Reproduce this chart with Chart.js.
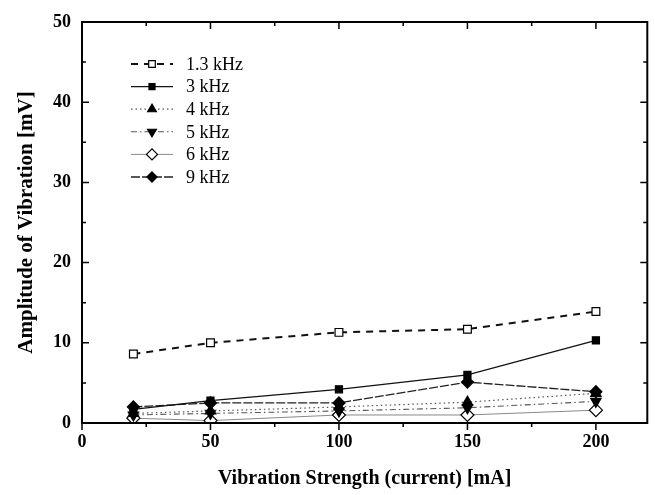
<!DOCTYPE html>
<html lang="en">
<head>
  <meta charset="UTF-8" />
  <title>Amplitude of Vibration vs Vibration Strength</title>
  <style>
  body {
    margin: 0;
    padding: 0;
    background: #ffffff;
  }
  .wrap {
    width: 655px;
    height: 495px;
  }
  </style>
  <script src="https://cdn.jsdelivr.net/npm/chart.js"></script>
</head>
<body>
  <div class="wrap">
    <canvas id="vibChart" width="655" height="495"></canvas>
  </div>

  <script>
  // current values (mA)
  const currents = [20, 50, 100, 150, 200];

  // amplitude (mV) per frequency
  const amp13k = [8.6, 10.0, 11.3, 11.7, 13.9];
  const amp3k  = [1.7, 2.8, 4.2, 6.0, 10.3];
  const amp4k  = [1.2, 1.5, 2.0, 2.6, 3.7];
  const amp5k  = [1.0, 1.2, 1.5, 1.9, 2.7];
  const amp6k  = [0.6, 0.3, 1.0, 1.0, 1.6];
  const amp9k  = [2.0, 2.5, 2.5, 5.1, 3.9];

  const seriesLabels = ['1.3 kHz', '3 kHz', '4 kHz', '5 kHz', '6 kHz', '9 kHz'];

  const xTicks = [0, 50, 100, 150, 200];
  const yTicks = [0, 10, 20, 30, 40, 50];

  const serif = '"Liberation Serif", "DejaVu Serif", serif';

  function toPoints(vals) {
    return vals.map((v, i) => ({ x: currents[i], y: v }));
  }

  const styles = [
    { dash: [7, 6], width: 2, color: '#111', pointStyle: 'rect', fill: '#fff', radius: 5.5, rot: 0 },
    { dash: [], width: 1.3, color: '#111', pointStyle: 'rect', fill: '#000', radius: 5, rot: 0 },
    { dash: [1.5, 3], width: 1.2, color: '#555', pointStyle: 'triangle', fill: '#000', radius: 6, rot: 0 },
    { dash: [6, 3, 1.5, 3], width: 1.1, color: '#555', pointStyle: 'triangle', fill: '#000', radius: 6, rot: 180 },
    { dash: [], width: 1, color: '#888', pointStyle: 'rectRot', fill: '#fff', radius: 6.5, rot: 0 },
    { dash: [9, 2], width: 1.3, color: '#222', pointStyle: 'rectRot', fill: '#000', radius: 6, rot: 0 }
  ];

  const allData = [amp13k, amp3k, amp4k, amp5k, amp6k, amp9k];

  const datasets = allData.map((vals, i) => ({
    label: seriesLabels[i],
    data: toPoints(vals),
    borderColor: styles[i].color,
    borderWidth: styles[i].width,
    borderDash: styles[i].dash,
    pointStyle: styles[i].pointStyle,
    pointRotation: styles[i].rot,
    pointRadius: styles[i].radius,
    pointBackgroundColor: styles[i].fill,
    pointBorderColor: '#000',
    pointBorderWidth: 1.2,
    tension: 0,
    fill: false
  }));

  // frame with ticks, like the original plot
  const framePlugin = {
    id: 'frame',
    afterDraw(chart) {
      const ctx = chart.ctx;
      const a = chart.chartArea;
      const xs = chart.scales.x;
      const ys = chart.scales.y;
      ctx.save();
      ctx.strokeStyle = '#000';
      ctx.lineWidth = 2;
      ctx.beginPath();
      ctx.moveTo(a.left, a.top);
      ctx.lineTo(a.left, a.bottom);
      ctx.lineTo(a.right, a.bottom);
      ctx.lineTo(a.right, a.top);
      ctx.closePath();
      ctx.stroke();

      ctx.lineWidth = 1.5;
      for (let v = 0; v <= 220; v += 25) {
        const px = xs.getPixelForValue(v);
        const len = v % 50 === 0 ? 7 : 4;
        ctx.beginPath();
        ctx.moveTo(px, a.bottom);
        ctx.lineTo(px, a.bottom + len);
        ctx.moveTo(px, a.top);
        ctx.lineTo(px, a.top + len);
        ctx.stroke();
      }
      for (let v = 0; v <= 50; v += 5) {
        const py = ys.getPixelForValue(v);
        const len = v % 10 === 0 ? 7 : 4;
        ctx.beginPath();
        ctx.moveTo(a.left, py);
        ctx.lineTo(a.left + len, py);
        ctx.moveTo(a.right, py);
        ctx.lineTo(a.right - len, py);
        ctx.stroke();
      }
      ctx.restore();
    }
  };

  // legend inside the plot: line sample with marker in the middle
  const insideLegend = {
    id: 'insideLegend',
    afterDraw(chart) {
      const ctx = chart.ctx;
      ctx.save();
      chart.data.datasets.forEach((ds, i) => {
        const y = 64 + i * 22.6;
        const x0 = 131, x1 = 173, xm = 152;
        ctx.strokeStyle = ds.borderColor;
        ctx.lineWidth = ds.borderWidth;
        ctx.setLineDash(ds.borderDash);
        ctx.beginPath();
        ctx.moveTo(x0, y);
        ctx.lineTo(x1, y);
        ctx.stroke();
        ctx.setLineDash([]);
        ctx.fillStyle = ds.pointBackgroundColor;
        ctx.strokeStyle = '#000';
        ctx.lineWidth = 1.2;
        Chart.helpers.drawPoint(ctx, {
          pointStyle: ds.pointStyle,
          rotation: ds.pointRotation,
          radius: ds.pointRadius * 0.85,
          borderWidth: 1.2
        }, xm, y);
        ctx.fillStyle = '#000';
        ctx.font = '18px ' + serif;
        ctx.textAlign = 'left';
        ctx.textBaseline = 'middle';
        ctx.fillText(ds.label, 186, y + 1);
      });
      ctx.restore();
    }
  };

  const ctx = document.getElementById('vibChart').getContext('2d');
  new Chart(ctx, {
    type: 'line',
    data: { datasets: datasets },
    options: {
      responsive: false,
      animation: false,
      layout: { padding: { top: 22, right: 1, left: 0, bottom: 0 } },
      plugins: {
        legend: { display: false },
        tooltip: { enabled: false }
      },
      scales: {
        x: {
          type: 'linear',
          min: 0,
          max: 220,
          afterBuildTicks(scale) {
            scale.ticks = xTicks.map(v => ({ value: v }));
          },
          afterFit(scale) { scale.height = 72; },
          grid: { display: false, drawTicks: false },
          border: { display: false },
          ticks: {
            color: '#000',
            padding: 9,
            maxRotation: 0,
            font: { family: serif, size: 18, weight: 'bold' }
          },
          title: {
            display: true,
            text: 'Vibration Strength (current) [mA]',
            color: '#000',
            padding: { top: 10 },
            font: { family: serif, size: 20, weight: 'bold' }
          }
        },
        y: {
          type: 'linear',
          min: 0,
          max: 50,
          afterBuildTicks(scale) {
            scale.ticks = yTicks.map(v => ({ value: v }));
          },
          afterFit(scale) { scale.width = 82; },
          grid: { display: false, drawTicks: false },
          border: { display: false },
          ticks: {
            color: '#000',
            padding: 11,
            font: { family: serif, size: 18, weight: 'bold' }
          },
          title: {
            display: true,
            text: 'Amplitude of Vibration [mV]',
            color: '#000',
            padding: { top: 14, bottom: 0 },
            font: { family: serif, size: 21, weight: 'bold' }
          }
        }
      }
    },
    plugins: [framePlugin, insideLegend]
  });
  </script>
</body>
</html>
